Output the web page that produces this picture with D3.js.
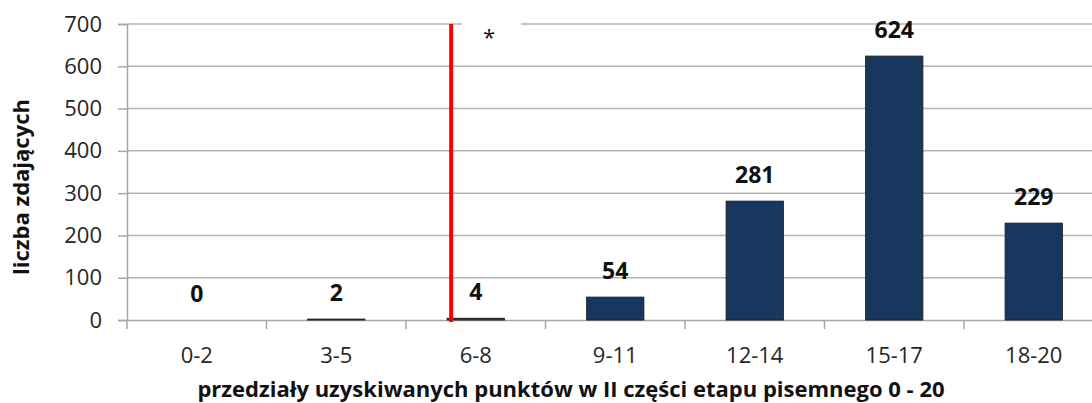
<!DOCTYPE html>
<html>
<head>
<meta charset="utf-8">
<script src="https://cdn.jsdelivr.net/npm/d3@7"></script>
<style>
  body { margin: 0; background: #fff; }
  text { font-family: "Open Sans", "Noto Sans", sans-serif; }
</style>
</head>
<body>
<svg width="1092" height="403"></svg>
<script>
var categories = ["0-2", "3-5", "6-8", "9-11", "12-14", "15-17", "18-20"]
var counts = [0, 2, 4, 54, 281, 624, 229]
var yTicks = [0, 100, 200, 300, 400, 500, 600, 700]
var cutoffCategory = "6-8"   // red threshold line sits in this band

var svg = d3.select("svg")
var plotLeft = 127, plotTop = 24, plotBottom = 320
var bandW = 139.5

var x = d3.scaleBand()
  .domain(categories)
  .range([plotLeft, plotLeft + bandW * categories.length])
  .paddingInner(0.59)
  .paddingOuter(0.295)

var y = d3.scaleLinear().domain([0, 700]).range([plotBottom, plotTop])

// gridlines
svg.append("g")
  .selectAll("line")
  .data(yTicks.slice(1))
  .enter().append("line")
    .attr("x1", plotLeft).attr("x2", 1092)
    .attr("y1", function(d) { return y(d) }).attr("y2", function(d) { return y(d) })
    .attr("stroke", "#b3b3b3")
    .attr("stroke-width", 1.5)

// y axis
var yAxis = svg.append("g")
  .attr("transform", "translate(" + plotLeft + ",0)")
  .call(d3.axisLeft(y).tickValues(yTicks).tickSize(9).tickPadding(16))
yAxis.select(".domain").attr("stroke", "#a6a6a6").attr("stroke-width", 1.5)
yAxis.selectAll(".tick line").attr("stroke", "#a6a6a6").attr("stroke-width", 1.5)
yAxis.selectAll(".tick text").style("font-size", "22px").attr("fill", "#262626")

// x axis
var xAxis = svg.append("g")
  .attr("transform", "translate(0," + plotBottom + ")")
  .call(d3.axisBottom(x).tickSize(0).tickPadding(27))
xAxis.select(".domain").attr("stroke", "#a6a6a6").attr("stroke-width", 1.5)
xAxis.selectAll(".tick text").style("font-size", "22px").attr("fill", "#262626")

// category boundary ticks
svg.append("g")
  .selectAll("line")
  .data(d3.range(categories.length + 1))
  .enter().append("line")
    .attr("x1", function(i) { return plotLeft + i * bandW })
    .attr("x2", function(i) { return plotLeft + i * bandW })
    .attr("y1", plotBottom).attr("y2", plotBottom + 9)
    .attr("stroke", "#a6a6a6")
    .attr("stroke-width", 1.5)

// bars
svg.append("g")
  .selectAll("rect")
  .data(counts)
  .enter().append("rect")
    .attr("x", function(d, i) { return x(categories[i]) })
    .attr("y", function(d) { return y(d) })
    .attr("width", x.bandwidth())
    .attr("height", function(d) { return plotBottom - y(d) })
    .attr("fill", "#17375e")
    .attr("stroke", "#222")
    .attr("stroke-width", 1)

// value labels
svg.append("g")
  .selectAll("text")
  .data(counts)
  .enter().append("text")
    .attr("x", function(d, i) { return x(categories[i]) + x.bandwidth() / 2 })
    .attr("y", function(d) { return y(d) - 18 })
    .attr("text-anchor", "middle")
    .style("font-size", "23px")
    .attr("font-weight", "bold")
    .attr("fill", "#111")
    .text(function(d) { return d })

// red threshold line
var redX = x(cutoffCategory) + 4
svg.append("line")
  .attr("x1", redX).attr("x2", redX)
  .attr("y1", plotTop).attr("y2", plotBottom + 2)
  .attr("stroke", "#ff0000")
  .attr("stroke-width", 4)

// asterisk with white box
svg.append("rect")
  .attr("x", 462).attr("y", 18).attr("width", 59).attr("height", 16)
  .attr("fill", "#fff")
svg.append("text")
  .attr("x", 489).attr("y", 45)
  .attr("text-anchor", "middle")
  .style("font-size", "22px")
  .attr("fill", "#111")
  .text("*")

// axis titles
svg.append("text")
  .attr("transform", "translate(29,187) rotate(-90)")
  .attr("text-anchor", "middle")
  .style("font-size", "22px")
  .attr("font-weight", "bold")
  .attr("fill", "#111")
  .text("liczba zdających")

svg.append("text")
  .attr("x", 571).attr("y", 397)
  .attr("text-anchor", "middle")
  .style("font-size", "22px")
  .attr("font-weight", "bold")
  .attr("fill", "#111")
  .text("przedziały uzyskiwanych punktów w II części etapu pisemnego 0 - 20")
</script>
</body>
</html>
